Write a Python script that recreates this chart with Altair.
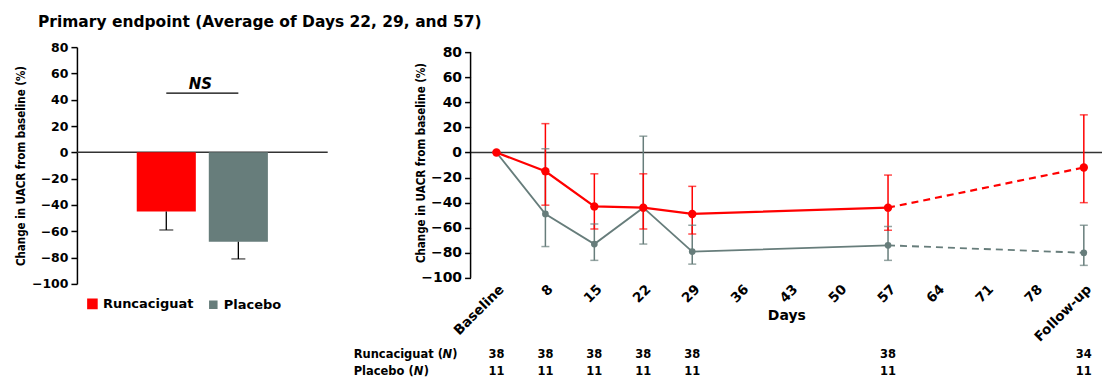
import altair as alt
import pandas as pd

# ---------------- data ----------------
groups = ["Runcaciguat", "Placebo"]
colors = ["#ff0000", "#677d7b"]

# Primary endpoint (bar chart)
primary_mean = [-45, -68]
primary_lower = [-59, -81]
ns_level = [45, 45]

# Time course
visit_day = [1, 8, 15, 22, 29, 57, 85]
run_mean = [0, -15, -43, -44, -49, -44, -12]
run_low = [0, -42, -61, -61, -65, -62, -40]
run_high = [0, 23, -17, -17, -27, -18, 30]
pla_mean = [0, -49, -73, -44, -79, -74, -80]
pla_low = [0, -75, -86, -73, -89, -86, -90]
pla_high = [0, 3, -57, 13, -58, -59, -58]
run_n = [38, 38, 38, 38, 38, 38, 34]
pla_n = [11, 11, 11, 11, 11, 11, 11]
tick_days = [1, 8, 15, 22, 29, 36, 43, 50, 57, 64, 71, 78, 85]
y_ticks = [-100, -80, -60, -40, -20, 0, 20, 40, 60, 80]

FONT = "DejaVu Sans"
TITLE_FONT = "Liberation Sans Narrow, DejaVu Sans Condensed, Liberation Sans"
LEFT_W, LEFT_H = 251, 237
RIGHT_W, RIGHT_H = 632, 231

# ---------------- left panel ----------------
df_bar = pd.DataFrame({"group": groups, "mean": primary_mean, "lower": primary_lower, "ns": ns_level})
one = pd.DataFrame({"k": [0]})

color_scale = alt.Scale(domain=groups, range=colors)
xb = alt.X("group:N", sort=groups, axis=None,
           scale=alt.Scale(paddingInner=0.18, paddingOuter=0.83))
y_left = alt.Y("mean:Q", scale=alt.Scale(domain=[-100, 80], nice=False),
               axis=alt.Axis(values=y_ticks, tickCount=30, grid=False, labelOverlap=False,
                             labelFlush=False,
                             title="Change in UACR from baseline (%)",
                             titleFont=TITLE_FONT, titleFontSize=11.5, titleFontWeight="bold",
                             titleX=-50, titleColor="black",
                             labelFont=FONT, labelFontSize=12.5, labelFontWeight="bold",
                             labelColor="black", labelPadding=3,
                             domainColor="black", domainWidth=1.5,
                             tickColor="black", tickWidth=1.5, tickSize=6))

base_l = alt.Chart(df_bar)
bars = base_l.mark_bar().encode(
    x=xb, y=y_left,
    color=alt.Color("group:N", scale=color_scale, sort=groups,
                    legend=alt.Legend(title=None, orient="none", legendX=9, legendY=250,
                                      direction="horizontal", symbolType="square",
                                      symbolSize=81, symbolStrokeWidth=0,
                                      labelFont=FONT, labelFontSize=13, labelFontWeight="bold",
                                      labelColor="black", columnPadding=12, labelOffset=4)))
err_l = base_l.mark_rule(color="black", strokeWidth=1.3).encode(x=xb, y="mean:Q", y2="lower:Q")
cap_l = base_l.mark_tick(color="black", size=14, thickness=1.3, orient="horizontal").encode(x=xb, y="lower:Q")
zero_l = alt.Chart(one).mark_rule(color="#333333", strokeWidth=1.5).encode(y=alt.datum(0))
ns_line = base_l.mark_line(color="black", strokeWidth=1.3).encode(x=xb, y="ns:Q")
ns_text = alt.Chart(pd.DataFrame({"t": ["NS"]})).mark_text(
    font=FONT, fontSize=15, fontStyle="italic", fontWeight="bold", baseline="alphabetic",
    dy=-4, color="black"
).encode(x=alt.value(LEFT_W / 2 - 2), y=alt.datum(ns_level[0]), text="t:N")

left = alt.layer(zero_l, bars, err_l, cap_l, ns_line, ns_text).properties(width=LEFT_W, height=LEFT_H)

# ---------------- right panel ----------------
rows = []
for g, m, lo, hi, ns in [("Placebo", pla_mean, pla_low, pla_high, pla_n),
                         ("Runcaciguat", run_mean, run_low, run_high, run_n)]:
    for d, a, b, c, n in zip(visit_day, m, lo, hi, ns):
        rows.append({"group": g, "day": d, "mean": a, "low": b, "high": c, "n": n})
df = pd.DataFrame(rows)

label_expr = "datum.value == 1 ? 'Baseline' : (datum.value == 85 ? 'Follow-up' : datum.value)"
xr = alt.X("day:Q", scale=alt.Scale(domain=[-2.7, 87.6], nice=False, zero=False),
           axis=alt.Axis(values=tick_days, tickCount=40, labelExpr=label_expr, labelAngle=-45,
                         labelOverlap=False, labelFlush=False,
                         domain=False, ticks=False, grid=False, labelPadding=4,
                         labelFont=FONT, labelFontSize=13.5, labelFontWeight="bold", labelColor="black",
                         title="Days", titleFont=FONT, titleFontSize=14, titleFontWeight="bold",
                         titleColor="black", titleY=31))
yr = alt.Y("mean:Q", scale=alt.Scale(domain=[-100, 84], nice=False),
           axis=alt.Axis(values=y_ticks, tickCount=30, grid=False, domain=False,
                         labelOverlap=False, labelFlush=False,
                         title="Change in UACR from baseline (%)",
                         titleFont=TITLE_FONT, titleFontSize=11.5, titleFontWeight="bold",
                         titleX=-44, titleColor="black",
                         labelFont=FONT, labelFontSize=14, labelFontWeight="bold",
                         labelColor="black", labelPadding=3,
                         tickColor="black", tickWidth=1.5, tickSize=6))
col = alt.Color("group:N", scale=color_scale, legend=None)
sw = alt.StrokeWidth("group:N", scale=alt.Scale(domain=groups, range=[2.2, 1.8]), legend=None)

base_r = alt.Chart(df)
yaxis_line = alt.Chart(one).mark_rule(color="black", strokeWidth=1.5).encode(
    x=alt.value(0), y=alt.datum(-100), y2=alt.datum(80))
zero_r = alt.Chart(one).mark_rule(color="#333333", strokeWidth=1.5).encode(y=alt.datum(0))
err_r = base_r.mark_rule(strokeWidth=1.5).encode(x=xr, y=alt.Y("low:Q"), y2="high:Q", color=col)
cap_lo = base_r.mark_tick(size=8, thickness=1.5, orient="horizontal").encode(x=xr, y="low:Q", color=col)
cap_hi = base_r.mark_tick(size=8, thickness=1.5, orient="horizontal").encode(x=xr, y="high:Q", color=col)
line_solid = base_r.transform_filter("datum.day <= 57").mark_line().encode(
    x=xr, y=yr, color=col, strokeWidth=sw, detail="group:N")
line_dash = base_r.transform_filter("datum.day >= 57").mark_line(strokeDash=[7, 5]).encode(
    x=xr, y=yr, color=col, strokeWidth=sw, detail="group:N")
pts = base_r.mark_circle(opacity=1).encode(
    x=xr, y=yr, color=col,
    size=alt.Size("group:N", scale=alt.Scale(domain=groups, range=[70, 45]), legend=None))

# N table
Y1, Y2 = 308, 325
NFS = 11.5
n_run = base_r.transform_filter("datum.group == 'Runcaciguat'").mark_text(
    font=FONT, fontSize=NFS, fontWeight="bold", color="black").encode(
    x=xr, y=alt.value(Y1), text="n:Q")
n_pla = base_r.transform_filter("datum.group == 'Placebo'").mark_text(
    font=FONT, fontSize=NFS, fontWeight="bold", color="black").encode(
    x=xr, y=alt.value(Y2), text="n:Q")

LFS = 11.5

def row_label(txt, ypix, xpix, italic=False):
    return alt.Chart(pd.DataFrame({"t": [txt]})).mark_text(
        font=FONT, fontSize=LFS, fontWeight="bold", align="left", color="black",
        fontStyle="italic" if italic else "normal"
    ).encode(x=alt.value(xpix), y=alt.value(ypix), text="t:N")

X0 = -117
w_run = LFS * 7.73   # em width of "Runcaciguat (" in DejaVu Sans Bold
w_pla = LFS * 5.23   # em width of "Placebo ("
w_n = LFS * 0.86
labels = alt.layer(
    row_label("Runcaciguat (", Y1, X0), row_label("N", Y1, X0 + w_run, True),
    row_label(")", Y1, X0 + w_run + w_n),
    row_label("Placebo (", Y2, X0), row_label("N", Y2, X0 + w_pla, True),
    row_label(")", Y2, X0 + w_pla + w_n),
)

right = alt.layer(zero_r, err_r, cap_lo, cap_hi, line_solid, line_dash, pts, yaxis_line,
                  n_run, n_pla, labels).properties(width=RIGHT_W, height=RIGHT_H)

chart = alt.hconcat(left, right, spacing=143, bounds="flush").properties(
    title=alt.TitleParams("Primary endpoint (Average of Days 22, 29, and 57)",
                          anchor="start", font=FONT, fontSize=15.5, fontWeight="bold",
                          color="black", dx=22, offset=11),
    padding={"left": 15, "top": 14, "right": 0, "bottom": 0},
    background="white",
).configure_view(stroke="transparent", strokeWidth=0)

chart.save("out.html", embed_options={"renderer": "svg", "actions": False})
